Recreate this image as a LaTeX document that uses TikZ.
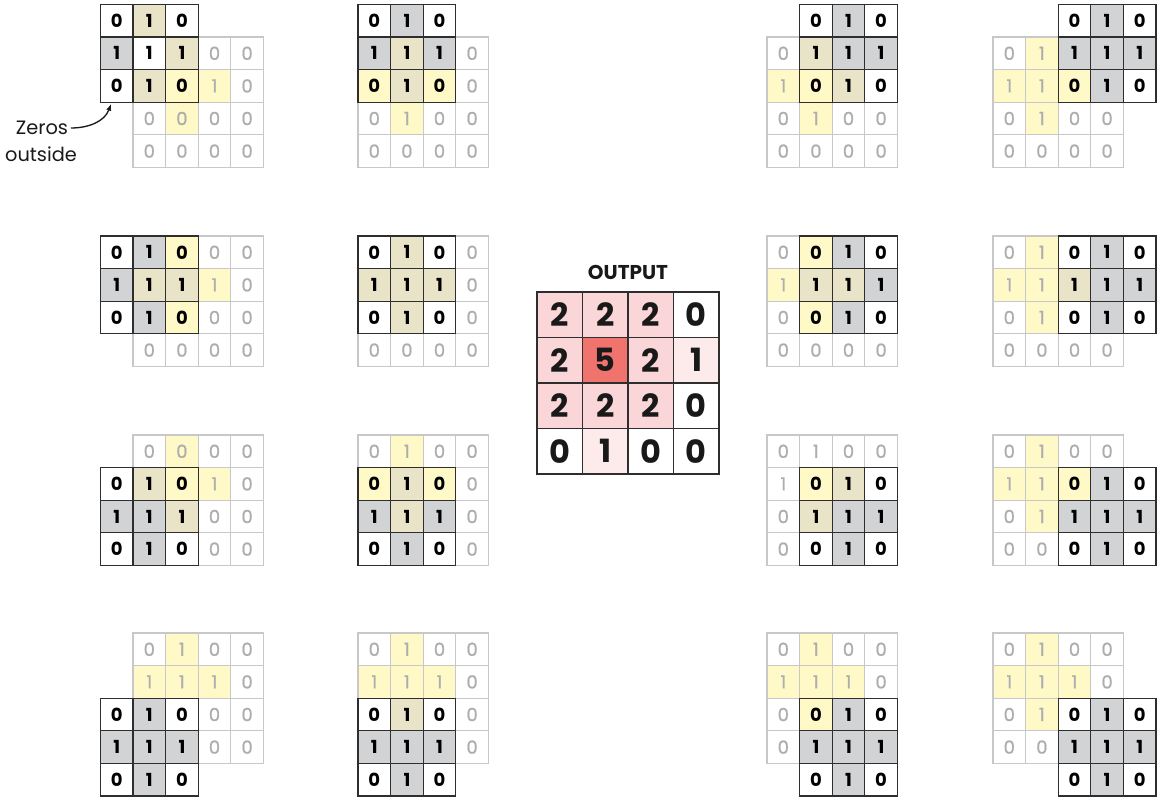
\documentclass[tikz,border=0pt]{standalone}
\usepackage{fontspec}
\setsansfont{Poppins}
\renewcommand{\familydefault}{\sfdefault}
\usepackage{tikz}
\usetikzlibrary{arrows.meta}

% --- Colores ---
\definecolor{kw}{HTML}{FFFFFF}
\definecolor{kg}{HTML}{D1D3D4}
\definecolor{kt}{HTML}{E9E4C8}
\definecolor{ky}{HTML}{FFF9C8}
\definecolor{fadetext}{HTML}{ADADAD}
\definecolor{fadeline}{HTML}{C8C8C8}
\definecolor{darkline}{HTML}{2E2E2E}
\definecolor{outtwo}{HTML}{FBD6D8}
\definecolor{outfive}{HTML}{F0736E}
\definecolor{outone}{HTML}{FDEBEC}

\def\csz{32.6}  % lado de una celda (px)
\def\osz{45.5}  % lado de una celda de salida (px)

% --- Entradas 4x4 (relleno/valor, por filas) ---
\def\stdinput{kw/0,ky/1,kw/0,kw/0, ky/1,ky/1,ky/1,kw/0, kw/0,ky/1,kw/0,kw/0, kw/0,kw/0,kw/0,kw/0}
\def\aoneinput{kw/0,ky/1,kw/0,kw/0, ky/1,ky/1,ky/1,kw/0, kw/0,ky/0,kw/0,kw/0, kw/0,kw/0,kw/0,kw/0}
\def\athreeinput{kw/0,ky/0,kw/0,kw/0, ky/1,ky/1,ky/1,kw/0, kw/0,ky/1,kw/0,kw/0, kw/0,kw/0,kw/0,kw/0}
\def\plaininput{kw/0,kw/1,kw/0,kw/0, kw/1,kw/1,kw/1,kw/0, kw/0,kw/1,kw/0,kw/0, kw/0,kw/0,kw/0,kw/0}

% #1 lista, #2/#3 centro del kernel (celdas tapadas no se dibujan)
\newcommand{\inputgrid}[3]{%
  \foreach \f/\v [count=\i from 0] in #1 {
    \pgfmathtruncatemacro{\ic}{mod(\i,4)}
    \pgfmathtruncatemacro{\ir}{floor(\i/4)}
    \pgfmathtruncatemacro{\hid}{(abs(\ic-#2)<2 && abs(\ir-#3)<2) ? 1 : 0}
    \ifnum\hid=0
      \node[incell, fill=\f] (in\pid-\i) at ({(\ic+0.5)*\csz},{(\ir+0.5)*\csz}) {\v};
    \fi
  }}

% #1 columna central, #2 fila central, #3 nueve rellenos
\newcommand{\kernelat}[3]{%
  \foreach \f [count=\i from 0] in {#3} {
    \pgfmathtruncatemacro{\kc}{#1-1+mod(\i,3)}
    \pgfmathtruncatemacro{\kr}{#2-1+floor(\i/3)}
    \pgfmathtruncatemacro{\kv}{(mod(\i,2)==1 || \i==4) ? 1 : 0}
    \node[kcell, fill=\f] (k\pid-\i) at ({(\kc+0.5)*\csz},{(\kr+0.5)*\csz}) {\kv};
  }}

\begin{document}
\begin{tikzpicture}[
    x=0.75pt, y=-0.75pt,
    incell/.style={draw=fadeline, line width=0.9pt, minimum size={\csz*0.75pt},
      inner sep=0pt, text=fadetext,
      font=\fontsize{13.5}{15}\selectfont\addfontfeature{FakeBold=0.8}},
    kcell/.style={draw=darkline, line width=1pt, minimum size={\csz*0.75pt},
      inner sep=0pt, text=black, font=\fontsize{13.5}{15}\selectfont\bfseries},
    ocell/.style={draw=darkline, line width=0.9pt, minimum size={\osz*0.75pt},
      inner sep=0pt, text=black!90, font=\fontsize{24}{26}\selectfont\bfseries},
    note/.style={font=\fontsize{14.5}{16}\selectfont, text=black!90, inner sep=0pt}
  ]
  \useasboundingbox (0,0) rectangle (1161,802);

  % --- Fila 1: kernel en la fila 0 ---
  \begin{scope}[shift={(133,37)}]\def\pid{a1}
    \inputgrid{\aoneinput}{0}{0}
    \kernelat{0}{0}{kw,kt,kw, kg,kw,kt, kw,kt,ky}
  \end{scope}
  \begin{scope}[shift={(358,37)}]\def\pid{b1}
    \inputgrid{\stdinput}{1}{0}
    \kernelat{1}{0}{kw,kg,kw, kg,kt,kg, ky,kt,ky}
  \end{scope}
  \begin{scope}[shift={(767,37)}]\def\pid{c1}
    \inputgrid{\stdinput}{2}{0}
    \kernelat{2}{0}{kw,kg,kw, kt,kg,kg, ky,kt,kw}
  \end{scope}
  \begin{scope}[shift={(993,37)}]\def\pid{d1}
    \inputgrid{\stdinput}{3}{0}
    \kernelat{3}{0}{kw,kg,kw, kg,kg,kg, ky,kg,kw}
  \end{scope}

  % --- Fila 2 ---
  \begin{scope}[shift={(133,236)}]\def\pid{a2}
    \inputgrid{\stdinput}{0}{1}
    \kernelat{0}{1}{kw,kg,ky, kg,kt,kt, kw,kg,ky}
  \end{scope}
  \begin{scope}[shift={(358,236)}]\def\pid{b2}
    \inputgrid{\stdinput}{1}{1}
    \kernelat{1}{1}{kw,kt,kw, kt,kt,kt, kw,kt,kw}
  \end{scope}
  \begin{scope}[shift={(767,236)}]\def\pid{c2}
    \inputgrid{\stdinput}{2}{1}
    \kernelat{2}{1}{ky,kg,kw, kt,kt,kg, ky,kg,kw}
  \end{scope}
  \begin{scope}[shift={(993,236)}]\def\pid{d2}
    \inputgrid{\stdinput}{3}{1}
    \kernelat{3}{1}{kw,kg,kw, kt,kg,kg, kw,kg,kw}
  \end{scope}

  % --- Fila 3 ---
  \begin{scope}[shift={(133,435)}]\def\pid{a3}
    \inputgrid{\athreeinput}{0}{2}
    \kernelat{0}{2}{kw,kt,ky, kg,kg,kt, kw,kg,kw}
  \end{scope}
  \begin{scope}[shift={(358,435)}]\def\pid{b3}
    \inputgrid{\stdinput}{1}{2}
    \kernelat{1}{2}{ky,kt,ky, kg,kt,kg, kw,kg,kw}
  \end{scope}
  \begin{scope}[shift={(767,435)}]\def\pid{c3}
    \inputgrid{\plaininput}{2}{2}
    \kernelat{2}{2}{ky,kt,kw, kt,kg,kg, kw,kg,kw}
  \end{scope}
  \begin{scope}[shift={(993,435)}]\def\pid{d3}
    \inputgrid{\stdinput}{3}{2}
    \kernelat{3}{2}{ky,kg,kw, kg,kg,kg, kw,kg,kw}
  \end{scope}

  % --- Fila 4 ---
  \begin{scope}[shift={(133,633)}]\def\pid{a4}
    \inputgrid{\stdinput}{0}{3}
    \kernelat{0}{3}{kw,kg,kw, kg,kg,kg, kw,kg,kw}
  \end{scope}
  \begin{scope}[shift={(358,633)}]\def\pid{b4}
    \inputgrid{\stdinput}{1}{3}
    \kernelat{1}{3}{kw,kt,kw, kg,kg,kg, kw,kg,kw}
  \end{scope}
  \begin{scope}[shift={(767,633)}]\def\pid{c4}
    \inputgrid{\stdinput}{2}{3}
    \kernelat{2}{3}{ky,kg,kw, kg,kg,kg, kw,kg,kw}
  \end{scope}
  \begin{scope}[shift={(993,633)}]\def\pid{d4}
    \inputgrid{\stdinput}{3}{3}
    \kernelat{3}{3}{kw,kg,kw, kg,kg,kg, kw,kg,kw}
  \end{scope}

  % --- Salida ---
  \node[font=\fontsize{15}{17}\selectfont\bfseries, text=black!90] (outlabel) at (628,272) {OUTPUT};
  \begin{scope}[shift={(537,292)}]
    \foreach \f/\v [count=\i from 0] in {outtwo/2,outtwo/2,outtwo/2,white/0,
        outtwo/2,outfive/5,outtwo/2,outone/1, outtwo/2,outtwo/2,outtwo/2,white/0,
        white/0,outone/1,white/0,white/0} {
      \pgfmathtruncatemacro{\oc}{mod(\i,4)}
      \pgfmathtruncatemacro{\orow}{floor(\i/4)}
      \node[ocell, fill=\f] (out-\i) at ({(\oc+0.5)*\osz},{(\orow+0.5)*\osz}) {\v};
    }
  \end{scope}

  % --- Nota: ceros fuera ---
  \node[note] (zeros) at (42,128) {Zeros};
  \node[note] (outside) at (41,154) {outside};
  \coordinate (ztip) at (111,104);
  \draw[-{Latex[length=5pt,width=4pt]}, line width=1pt, black!90]
    ([xshift=2pt]zeros.east) to[out=0, in=-110] (ztip);
\end{tikzpicture}
\end{document}
